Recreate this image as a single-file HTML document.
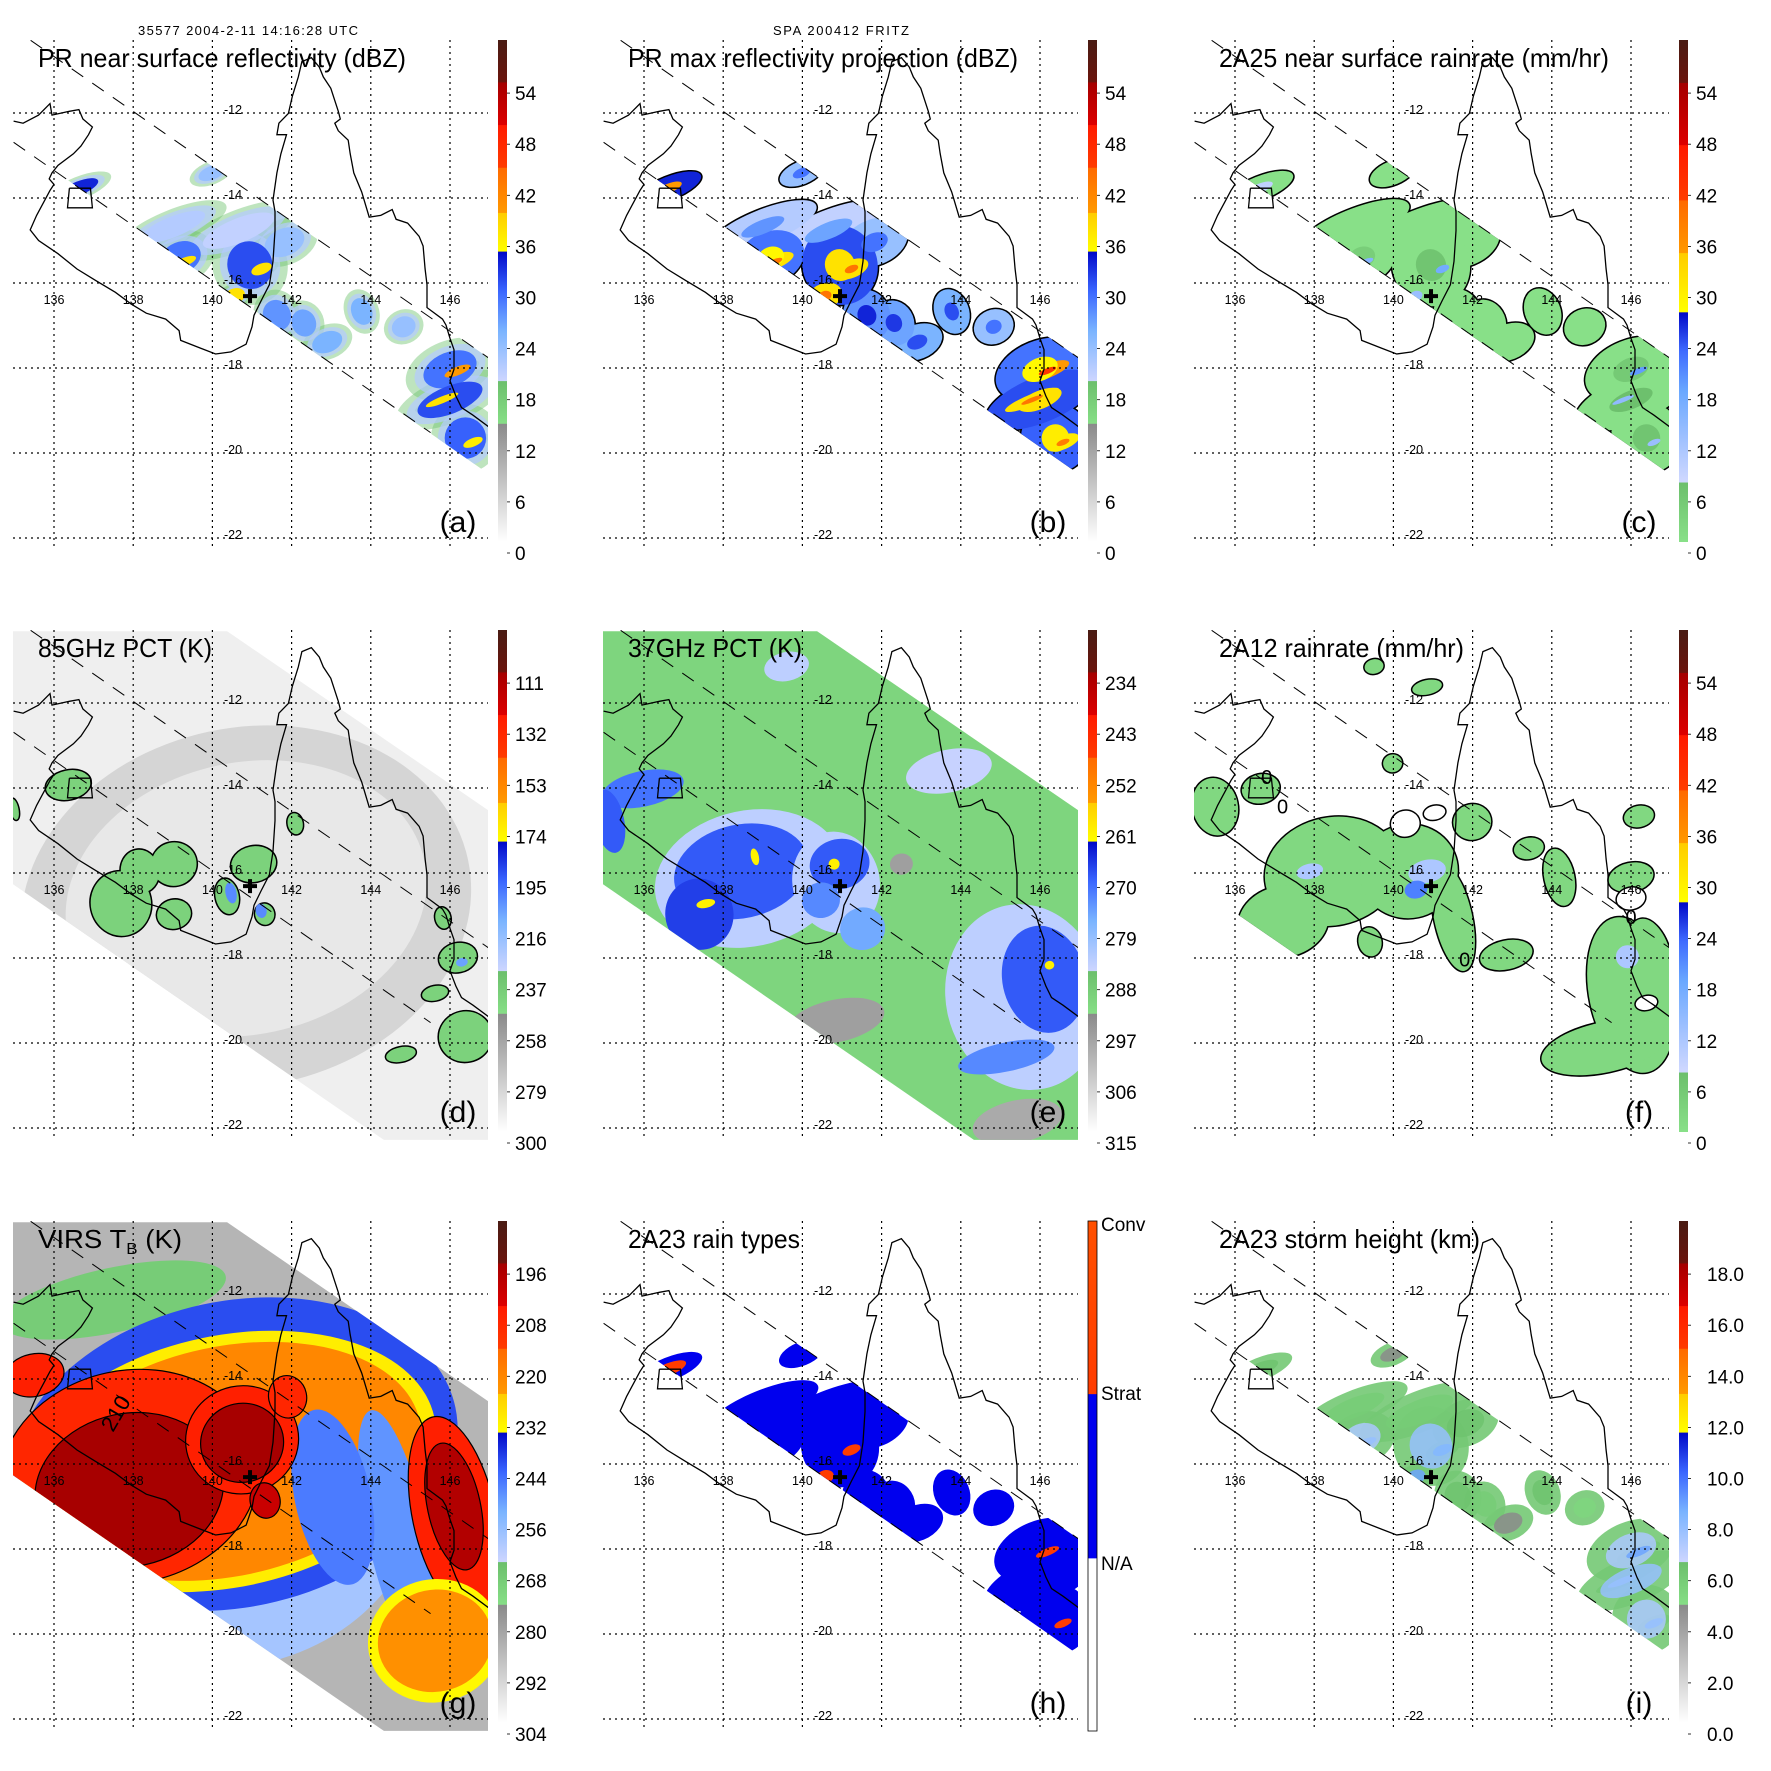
<!DOCTYPE html>
<html><head><meta charset="utf-8"><title>TRMM multi-panel</title>
<style>
html,body{margin:0;padding:0;background:#fff;}
svg{display:block;font-family:"Liberation Sans",sans-serif;}
</style></head>
<body>
<svg id="fig" xmlns="http://www.w3.org/2000/svg" width="1771" height="1771" viewBox="0 0 1771 1771">
<rect x="0" y="0" width="1771" height="1771" fill="#fff"/>
<text x="138" y="35" font-size="13" textLength="220">35577 2004-2-11 14:16:28 UTC</text>
<text x="773" y="35" font-size="13" textLength="136">SPA 200412 FRITZ</text>
<defs id="defs"></defs>
</svg>
<script>
// ---------- data ----------
const lonTicks = [136,138,140,142,144,146];
const latTicks = [-12,-14,-16,-18,-20,-22];
const coastLon = [134.98,135.22,135.61,135.90,135.95,136.39,136.63,136.73,136.97,136.87,136.68,136.49,136.10,135.95,135.88,136.0,135.90,135.56,135.40,135.61,136.10,136.58,137.07,137.55,137.94,138.33,138.82,139.16,139.20,139.69,140.08,140.47,140.85,141.0,141.05,141.24,141.44,141.53,141.58,141.58,141.53,141.63,141.73,141.87,141.63,141.68,141.92,142.02,142.17,142.26,142.50,142.70,142.80,142.99,143.18,143.23,143.09,143.18,143.43,143.48,143.57,143.77,143.96,144.25,144.54,144.64,144.93,145.22,145.32,145.37,145.42,145.42,145.81,145.90,146.0,146.10,146.10,146.0,146.15,146.29,146.58,146.97];
const coastLat = [-12.19,-12.24,-12.05,-11.78,-12.05,-11.96,-11.92,-12.14,-12.33,-12.51,-12.78,-12.96,-13.23,-13.41,-13.55,-13.68,-13.82,-14.41,-14.75,-15.00,-15.31,-15.67,-15.95,-16.22,-16.49,-16.71,-16.85,-17.12,-17.35,-17.53,-17.67,-17.62,-17.44,-17.03,-16.76,-16.40,-16.04,-15.49,-14.77,-14.32,-14.05,-13.41,-12.96,-12.51,-12.51,-12.24,-12.01,-11.60,-11.15,-10.79,-10.70,-10.92,-11.15,-11.42,-11.96,-12.14,-12.24,-12.42,-12.64,-12.96,-13.41,-13.86,-14.45,-14.41,-14.27,-14.50,-14.59,-14.90,-15.13,-15.67,-16.04,-16.58,-16.85,-16.99,-17.30,-17.57,-18.03,-18.30,-18.66,-18.93,-19.11,-19.38];
const islandLon = [136.39,136.92,136.97,136.34,136.39];
const islandLat = [-13.77,-13.77,-14.23,-14.23,-13.77];
const stormLon = 140.95, stormLat = -16.31;

// PR echo cells (shared positions)
const prLon = [139.0,140.66,141.82,139.2,140.95,140.56,141.63,142.31,142.9,143.77,144.83,146.0,146.0,146.39,136.63,139.98,141.24,139.3,146.19,145.8,146.58];
const prLat = [-14.68,-14.77,-15.04,-15.4,-15.58,-16.31,-16.76,-16.94,-17.39,-16.67,-17.03,-18.03,-18.75,-19.65,-13.77,-13.41,-15.67,-15.5,-18.07,-18.75,-19.75];
const prRx  = [0.97,1.07,0.58,0.58,0.63,0.3,0.39,0.34,0.44,0.29,0.34,0.78,0.97,0.58,0.58,0.39,0.3,0.34,0.39,0.49,0.29];
const prRy  = [0.27,0.32,0.36,0.41,0.63,0.2,0.41,0.36,0.27,0.36,0.27,0.45,0.36,0.54,0.18,0.18,0.14,0.11,0.11,0.09,0.11];
const prDbz = [22,21,24,30,32,38,28,27,26,26,24,30,32,31,34,24,38,38,40,38,37];
const prRain = [2,2,3,5,7,14,4,4,3,3,3,6,8,7,10,3,18,16,20,15,14];
const prType = [1,1,1,1,1,2,1,1,1,1,1,1,1,1,2,1,2,1,2,1,2];
const prHeight = [6,6,6.5,7.5,8,9,6.5,6,5,6.5,5.5,7.5,8,7.5,6.5,5,8.5,8,9,8,8];

// 85 GHz PCT features (K)
const d85Lon = [140.85,140.85,136.36,137.69,138.17,139.03,139.03,141.04,140.37,141.32,142.09,146.2,145.62,146.39,144.76,145.82,135.0,140.47,141.23,146.3];
const d85Lat = [-16.8,-16.6,-13.93,-16.72,-15.96,-15.79,-16.97,-15.79,-16.55,-16.97,-14.84,-17.99,-18.83,-19.85,-20.27,-17.06,-14.5,-16.47,-16.89,-18.1];
const d85Rx  = [5.73,4.6,0.57,0.76,0.48,0.57,0.43,0.57,0.29,0.24,0.19,0.48,0.33,0.67,0.38,0.19,0.1,0.14,0.14,0.15];
const d85Ry  = [4.22,3.2,0.34,0.76,0.51,0.51,0.34,0.42,0.42,0.25,0.25,0.34,0.17,0.59,0.17,0.25,0.25,0.25,0.17,0.1];
const d85Val = [278,286,240,240,240,240,240,240,240,240,240,240,240,240,240,240,240,200,200,205];

// 37 GHz PCT features (K)
const e37Lon = [138.65,138.46,137.4,140.85,140.94,140.47,141.52,145.62,146.1,145.15,135.97,135.12,139.6,143.7,140.85,145.43,142.5,138.8,137.56,140.8,146.24];
const e37Lat = [-16.13,-15.96,-16.97,-16.22,-15.79,-16.64,-17.31,-18.92,-18.5,-20.33,-14.02,-14.78,-11.14,-13.6,-19.48,-21.85,-15.79,-15.62,-16.72,-15.79,-18.17];
const e37Rx  = [2.4,1.72,0.86,1.1,0.76,0.48,0.57,2.0,1.05,1.24,1.05,0.38,0.57,1.1,1.24,1.15,0.29,0.1,0.24,0.14,0.12];
const e37Ry  = [1.6,1.1,0.84,1.2,0.59,0.42,0.5,2.2,1.27,0.34,0.42,0.76,0.34,0.5,0.5,0.5,0.25,0.2,0.1,0.13,0.1];
const e37Val = [283,268,266,283,268,272,275,283,268,272,270,268,283,284,296,298,296,260,260,260,260];

// 2A12 rain (mm/hr); -1 = rain-free hole
const fLon = [138.46,137.22,140.39,141.51,141.99,142.85,146.0,145.33,146.46,135.5,136.65,144.19,143.42,146.0,140.85,139.51,139.98,146.2,139.41,140.3,141.04,146.39,146.0,137.89,140.85,145.91,140.57];
const fLat = [-15.96,-17.14,-15.96,-17.06,-14.8,-17.93,-18.87,-20.1,-18.07,-14.44,-14.02,-16.1,-15.42,-16.1,-11.63,-11.14,-13.42,-14.67,-17.62,-14.84,-14.58,-19.06,-16.6,-15.96,-15.96,-17.97,-16.39];
const fRx  = [1.72,1.15,1.24,0.48,0.48,0.67,1.05,1.62,0.57,0.57,0.48,0.38,0.38,0.57,0.38,0.24,0.24,0.38,0.29,0.38,0.29,0.29,0.38,0.34,0.48,0.29,0.29];
const fRy  = [1.27,0.84,1.1,1.27,0.42,0.34,1.86,0.59,1.01,0.68,0.34,0.68,0.25,0.34,0.17,0.17,0.21,0.25,0.34,0.32,0.18,0.18,0.27,0.18,0.27,0.27,0.21];
const fVal = [3,3,3,3,3,3,3,3,3,3,3,3,3,3,3,3,3,3,3,-1,-1,-1,-1,12,12,12,22];

// VIRS Tb features (K)
const gLon = [137.5,140.37,140.56,140.37,140.37,144.67,143.04,137.9,137.9,140.75,140.75,141.9,141.33,146.1,146.1,145.62,145.62,135.5];
const gLat = [-12.14,-16.78,-15.77,-15.94,-15.94,-17.63,-16.78,-16.3,-16.61,-15.43,-15.5,-14.42,-16.86,-17.2,-17.0,-20.16,-20.16,-13.91];
const gRx  = [2.9,5.0,5.7,5.35,4.97,0.76,0.96,3.3,2.4,1.43,1.05,0.48,0.38,1.05,0.67,1.7,1.45,0.76];
const gRy  = [0.76,4.0,3.6,2.96,2.7,2.96,2.1,2.5,1.8,1.27,0.93,0.5,0.42,2.36,1.52,1.45,1.2,0.5];
const gVal = [268,258,240,230,220,248,245,207,194,205,194,207,200,205,196,232,222,205];

// colorbar tick labels (bottom -> top)
const cbDbz = ['0','6','12','18','24','30','36','42','48','54'];
const cb85 = ['300','279','258','237','216','195','174','153','132','111'];
const cb37 = ['315','306','297','288','279','270','261','252','243','234'];
const cbVirs = ['304','292','280','268','256','244','232','220','208','196'];
const cbHeight = ['0.0','2.0','4.0','6.0','8.0','10.0','12.0','14.0','16.0','18.0'];
const cbRainType = ['N/A','Strat','Conv'];

// ---------- helpers ----------
const NS='http://www.w3.org/2000/svg';
const svg=document.getElementById('fig');
const defs=document.getElementById('defs');
function mk(tag,attrs,parent){const e=document.createElementNS(NS,tag);for(const k in attrs)e.setAttribute(k,attrs[k]);if(parent)parent.appendChild(e);return e;}
function X(lon){return 54+(lon-136)*39.6;}
function Y(lat){return 113+(-12-lat)*42.5;}

const PAL_A=[[0,'#ffffff'],[0.235,'#8a8a8a'],[0.236,'#86de86'],[0.32,'#6cbf6c'],[0.321,'#cdd5ff'],[0.42,'#7ab4ff'],[0.5,'#3a66ff'],[0.578,'#0008c8'],[0.579,'#ffff00'],[0.655,'#ffcc00'],[0.656,'#ff9900'],[0.745,'#ff6a00'],[0.746,'#ff3c00'],[0.83,'#ff1a00'],[0.831,'#dd0000'],[0.915,'#a40000'],[0.916,'#6a140c'],[1,'#4a1c14']];
const PAL_C=[[0,'#88e088'],[0.118,'#6cbf6c'],[0.119,'#d0d8ff'],[0.3,'#6aa8ff'],[0.38,'#3f6bff'],[0.457,'#0008c8'],[0.458,'#ffff00'],[0.575,'#ffcc00'],[0.576,'#ff9900'],[0.68,'#ff6a00'],[0.681,'#ff3c00'],[0.79,'#ff1a00'],[0.791,'#dd0000'],[0.914,'#a40000'],[0.915,'#6a140c'],[1,'#4a1c14']];
const PAL_H=[[0,'#ffffff'],[0.338,'#ffffff'],[0.339,'#0000ee'],[0.66,'#0000ee'],[0.661,'#ff3c00'],[1,'#ff5000']];

function hex2rgb(h){return [parseInt(h.substr(1,2),16),parseInt(h.substr(3,2),16),parseInt(h.substr(5,2),16)];}
function palColor(pal,t){
  t=Math.max(0,Math.min(1,t));
  for(let i=1;i<pal.length;i++){
    if(t<=pal[i][0]){const a=hex2rgb(pal[i-1][1]),b=hex2rgb(pal[i][1]);const f=(t-pal[i-1][0])/Math.max(1e-6,pal[i][0]-pal[i-1][0]);
      return 'rgb('+a.map((v,k)=>Math.round(v+(b[k]-v)*f)).join(',')+')';}
  }
  return pal[pal.length-1][1];
}

const panels=[
 {id:'a',col:0,row:0,title:'PR near surface reflectivity (dBZ)',tlen:368,pal:PAL_A,vb:0,vs:6,labels:cbDbz,swath:'pr'},
 {id:'b',col:1,row:0,title:'PR max reflectivity projection (dBZ)',tlen:390,pal:PAL_A,vb:0,vs:6,labels:cbDbz,swath:'pr'},
 {id:'c',col:2,row:0,title:'2A25 near surface rainrate (mm/hr)',tlen:390,pal:PAL_C,vb:0,vs:6,labels:cbDbz,swath:'pr'},
 {id:'d',col:0,row:1,title:'85GHz PCT (K)',tlen:174,pal:PAL_A,vb:300,vs:-21,labels:cb85,swath:'wide'},
 {id:'e',col:1,row:1,title:'37GHz PCT (K)',tlen:174,pal:PAL_A,vb:315,vs:-9,labels:cb37,swath:'wide'},
 {id:'f',col:2,row:1,title:'2A12 rainrate (mm/hr)',tlen:245,pal:PAL_C,vb:0,vs:6,labels:cbDbz,swath:'wide'},
 {id:'g',col:0,row:2,title:'VIRS',tlen:144,pal:PAL_A,vb:304,vs:-12,labels:cbVirs,swath:'wide'},
 {id:'h',col:1,row:2,title:'2A23 rain types',tlen:172,pal:PAL_H,vb:0,vs:1,labels:cbRainType,swath:'pr'},
 {id:'i',col:2,row:2,title:'2A23 storm height (km)',tlen:261,pal:PAL_A,vb:0,vs:2,labels:cbHeight,swath:'pr'}
];
const offs=[0,590,1181];

function tOf(p,v){return (((v-p.vb)/p.vs)*51.1-11)/502;}
function colOf(p,v){return palColor(p.pal,tOf(p,v));}

const prPoly=[[135.41,-10.29],[146.97,-17.76],[146.97,-20.49],[134.98,-12.69]];
const widePoly=[[134.96,-10.31],[140.37,-10.31],[146.96,-14.52],[146.96,-22.28],[144.33,-22.28],[134.96,-16.26]];
function polyPts(pl){return pl.map(q=>X(q[0]).toFixed(1)+','+Y(q[1]).toFixed(1)).join(' ');}

function ell(parent,lon,lat,rx,ry,sc,fill,rot,extra){
  const cx=X(lon),cy=Y(lat);
  const a={cx:cx.toFixed(1),cy:cy.toFixed(1),rx:(rx*39.6*sc).toFixed(1),ry:(ry*42.5*sc).toFixed(1),fill:fill,transform:'rotate('+rot+' '+cx.toFixed(1)+' '+cy.toFixed(1)+')'};
  for(const k in (extra||{}))a[k]=extra[k];
  return mk('ellipse',a,parent);
}
function order(vals,desc){const idx=vals.map((v,i)=>i);idx.sort((a,b)=>desc?vals[b]-vals[a]:vals[a]-vals[b]);return idx;}

panels.forEach(p=>{
  const g=mk('g',{transform:'translate('+offs[p.col]+','+offs[p.row]+')'},svg);
  
  

  const cp=mk('clipPath',{id:'clip-'+p.id},defs);
  mk('polygon',{points:polyPts(p.swath==='pr'?prPoly:widePoly)},cp);
  const cr=mk('clipPath',{id:'rect-'+p.id},defs);
  mk('rect',{x:13,y:40,width:475,height:510},cr);

  const outer=mk('g',{'clip-path':'url(#rect-'+p.id+')'},g);
  const data=mk('g',{'clip-path':'url(#clip-'+p.id+')'},outer);
  
  
  const rot=p.swath==='pr'?-22:-12;

  if(p.id==='a'){
    order(prDbz).forEach(i=>{const h=ell(data,prLon[i],prLat[i],prRx[i],prRy[i],1.5,colOf(p,19.5),rot,{opacity:0.45});
      });
    order(prDbz).forEach(i=>{const h=ell(data,prLon[i],prLat[i],prRx[i],prRy[i],1.2,colOf(p,22),rot,{opacity:0.7});
      });
    order(prDbz).forEach(i=>{const c=ell(data,prLon[i],prLat[i],prRx[i],prRy[i],0.9,colOf(p,prDbz[i]),rot);
      });
  } else if(p.id==='b'){
    prDbz.forEach((v,i)=>{const o=ell(data,prLon[i],prLat[i],prRx[i],prRy[i],1.5,'#000',rot,{stroke:'#000','stroke-width':3});
      });
    order(prDbz).forEach(i=>{const h=ell(data,prLon[i],prLat[i],prRx[i],prRy[i],1.5,colOf(p,prDbz[i]),rot);
      });
    order(prDbz).forEach(i=>{const c=ell(data,prLon[i],prLat[i],prRx[i],prRy[i],0.6,colOf(p,prDbz[i]+6),rot);
      });
  } else if(p.id==='c'){
    prRain.forEach((v,i)=>{const o=ell(data,prLon[i],prLat[i],prRx[i],prRy[i],1.55,'#000',rot,{stroke:'#000','stroke-width':3});
      });
    prRain.forEach((v,i)=>{const h=ell(data,prLon[i],prLat[i],prRx[i],prRy[i],1.55,colOf(p,1),rot);
      });
    order(prRain).forEach(i=>{if(prRain[i]<5)return;const c=ell(data,prLon[i],prLat[i],prRx[i],prRy[i],0.6,colOf(p,prRain[i]),rot);
      });
  } else if(p.id==='h'){
    prType.forEach((v,i)=>{const h=ell(data,prLon[i],prLat[i],prRx[i],prRy[i],1.55,'#0000ee',rot);
      });
    prType.forEach((v,i)=>{if(v<2)return;const c=ell(data,prLon[i],prLat[i],prRx[i],prRy[i],0.8,'#ff3c00',rot);
      });
  } else if(p.id==='i'){
    prHeight.forEach((v,i)=>{const h=ell(data,prLon[i],prLat[i],prRx[i],prRy[i],1.5,colOf(p,6.2),rot,{opacity:0.9});
      });
    order(prHeight).forEach(i=>{const c=ell(data,prLon[i],prLat[i],prRx[i],prRy[i],0.85,colOf(p,prHeight[i]),rot,{opacity:0.85});
      });
  } else if(p.id==='d'){
    const base=mk('rect',{x:0,y:0,width:500,height:560,fill:colOf(p,289)},data);
    
    for(let i=0;i<2;i++){const b=ell(data,d85Lon[i],d85Lat[i],d85Rx[i],d85Ry[i],1,colOf(p,d85Val[i]),rot);
      }
    for(let i=2;i<d85Val.length;i++){if(d85Val[i]<230)continue;const o=ell(data,d85Lon[i],d85Lat[i],d85Rx[i],d85Ry[i],1,'#000',rot,{stroke:'#000','stroke-width':3});
      }
    order(d85Val,true).forEach(i=>{if(i<2)return;const c=ell(data,d85Lon[i],d85Lat[i],d85Rx[i],d85Ry[i],1,colOf(p,d85Val[i]),rot);
      });
  } else if(p.id==='e'){
    const base=mk('rect',{x:0,y:0,width:500,height:560,fill:colOf(p,290)},data);
    
    e37Val.forEach((v,i)=>{const c=ell(data,e37Lon[i],e37Lat[i],e37Rx[i],e37Ry[i],1,colOf(p,v),rot);
      });
  } else if(p.id==='f'){
    fVal.forEach((v,i)=>{if(v!==3)return;const o=ell(data,fLon[i],fLat[i],fRx[i],fRy[i],1,'#000',rot,{stroke:'#000','stroke-width':3});
      });
    fVal.forEach((v,i)=>{const col=v<0?'#ffffff':colOf(p,v);const c=ell(data,fLon[i],fLat[i],fRx[i],fRy[i],1,col,rot,v<0?{stroke:'#000','stroke-width':1.5}:{});
      });
    [[136.8,-13.9],[137.2,-14.6],[141.8,-18.2],[146.0,-17.2]].forEach(q=>{
      const t=mk('text',{x:X(q[0]),y:Y(q[1]),'font-size':20,'text-anchor':'middle'},data);t.textContent='0';
      });
  } else if(p.id==='g'){
    const base=mk('rect',{x:0,y:0,width:500,height:560,fill:colOf(p,284)},data);
    
    gVal.forEach((v,i)=>{const ex=v<=210?{stroke:'#000','stroke-width':1.2}:{};const c=ell(data,gLon[i],gLat[i],gRx[i],gRy[i],1,colOf(p,v),rot,ex);
      });
    const t=mk('text',{x:113,y:252,'font-size':22,transform:'rotate(-60 113 252)'},data);t.textContent='210';
    
  }

  const cd='M'+coastLon.map((l,i)=>X(l).toFixed(1)+','+Y(coastLat[i]).toFixed(1)).join(' L');
  const coast=mk('path',{d:cd,fill:'none',stroke:'#000','stroke-width':1.3},outer);
  
  const isl=mk('path',{d:'M'+islandLon.map((l,i)=>X(l).toFixed(1)+','+Y(islandLat[i]).toFixed(1)).join(' L'),fill:'none',stroke:'#000','stroke-width':1.3},outer);
  

  const up=mk('line',{x1:X(135.41),y1:Y(-10.29),x2:X(146.97),y2:Y(-17.76),stroke:'#000','stroke-width':1,'stroke-dasharray':'14 11'},outer);
  
  const lo=mk('line',{x1:X(134.98),y1:Y(-12.69),x2:X(145.51),y2:Y(-19.52),stroke:'#000','stroke-width':1,'stroke-dasharray':'14 11'},outer);
  

  lonTicks.forEach(l=>{const ln=mk('line',{x1:X(l),y1:40,x2:X(l),y2:550,stroke:'#000','stroke-width':1.2,'stroke-dasharray':'2 4'},g);
    
    const t=mk('text',{x:X(l),y:304,'font-size':12.5,'text-anchor':'middle'},g);t.textContent=String(l);
    });
  latTicks.forEach(l=>{const ln=mk('line',{x1:13,y1:Y(l),x2:488,y2:Y(l),stroke:'#000','stroke-width':1.2,'stroke-dasharray':'2 4'},g);
    
    const t=mk('text',{x:233,y:Y(l)+1,'font-size':12.5,'text-anchor':'middle'},g);t.textContent=String(l);
    });

  const cx=X(stormLon),cy=Y(stormLat);
  const cross=mk('path',{d:'M'+(cx-7)+','+cy+' H'+(cx+7)+' M'+cx+','+(cy-7)+' V'+(cy+7),stroke:'#000','stroke-width':4,fill:'none'},g);
  

  const tt=mk('text',{x:38,y:67,'font-size':26,textLength:p.tlen,lengthAdjust:'spacingAndGlyphs'},g);
  if(p.id==='g'){tt.textContent='VIRS T';const s=mk('tspan',{'font-size':16,dy:6},tt);s.textContent='B';const s2=mk('tspan',{dy:-6},tt);s2.textContent=' (K)';}
  else tt.textContent=p.title;
  

  const lt=mk('text',{x:458,y:532,'font-size':30,'text-anchor':'middle'},g);lt.textContent='('+p.id+')';
  

  const gid='grad-'+p.id;
  const lg=mk('linearGradient',{id:gid,x1:0,y1:1,x2:0,y2:0},defs);
  p.pal.forEach(s=>mk('stop',{offset:s[0],'stop-color':s[1]},lg));
  const barH=p.id==='h'?510:502;
  const bar=mk('rect',{x:498,y:40,width:9,height:barH,fill:'url(#'+gid+')',stroke:p.id==='h'?'#000':'none','stroke-width':0.8},g);
  
  if(p.id==='h'){
    const ys=[382,212,43];
    p.labels.forEach((s,k)=>{const t=mk('text',{x:511,y:ys[k]+7,'font-size':19},g);t.textContent=s;
      });
  } else {
    p.labels.forEach((s,k)=>{const yc=553-k*51.1;
      const t=mk('text',{x:p.id==='i'?526:515,y:(yc+7).toFixed(1),'font-size':19},g);t.textContent=s;
      
      const tk=mk('line',{x1:507,y1:yc,x2:510,y2:yc,stroke:'#000','stroke-width':0.8},g);
      });
  }
});
</script>
</body></html>
